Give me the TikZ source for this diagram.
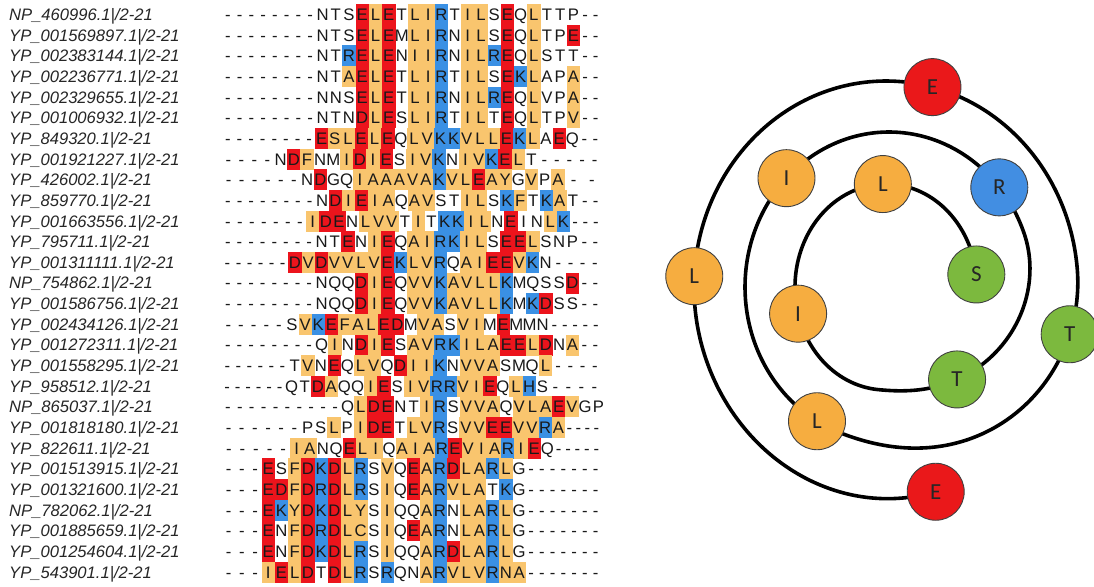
\documentclass[tikz,border=0pt]{standalone}
\usepackage{fontspec}
\setmainfont{Liberation Sans}
\newfontfamily\wheelfont{Carlito}
\definecolor{colr}{RGB}{236,20,28}
\definecolor{colb}{RGB}{58,144,228}
\definecolor{colo}{RGB}{249,197,110}
\definecolor{whred}{RGB}{234,24,26}
\definecolor{whorange}{RGB}{246,173,64}
\definecolor{whblue}{RGB}{66,142,226}
\definecolor{whgreen}{RGB}{124,185,62}

\def\resw{13.2}

% #1 row, #2 label, #3 x of first residue, #4 leading gaps, #5 trailing gaps, #6 sequence
\def\alnrow#1#2#3#4#5#6{%
  \pgfmathsetmacro\tmpb{20.5+20.65*(#1-1)}\xdef\rowbase{\tmpb}%
  \pgfmathsetmacro\tmpa{#4>0 ? (#3-222)/max(#4,1) : 0}\xdef\leadw{\tmpa}%
  \pgfmathsetmacro\tmpa{#5>0 ? (601-(#3+20*\resw))/max(#5,1) : 0}\xdef\trailw{\tmpa}%
  \xdef\curdashw{\leadw}%
  \pgfmathsetmacro\tmpa{#3-#4*\leadw}\xdef\cx{\tmpa}%
  \xdef\rownum{#1}%
  \xdef\colnum{0}%
  \node[lab] (lab#1) at (9,\rowbase) {#2};%
  \alnparse#6.}
\def\alnparse#1{%
  \ifx#1.\let\alnnext\relax
  \else\ifx#1-\def\alnnext{\alndash\alnparse}%
  \else\def\alnnext##1{\alnres{#1}{##1}\alnparse}%
  \fi\fi\alnnext}
\def\alnadvance#1{%
  \pgfmathsetmacro\tmpn{\cx+#1}\xdef\cx{\tmpn}%
  \pgfmathtruncatemacro\tmpc{\colnum+1}\xdef\colnum{\tmpc}}
\def\alndash{%
  \pgfmathsetmacro\tmpx{\cx+\curdashw/2}%
  \node[dashc] (a\rownum x\colnum) at (\tmpx,\rowbase) {-};%
  \alnadvance{\curdashw}}
\def\alnres#1#2{%
  \ifx#2w\else
    \fill[col#2] (\cx,\rowbase-16.4) rectangle ++(\resw+0.3,21);%
  \fi
  \pgfmathsetmacro\tmpx{\cx+\resw/2}%
  \node[resc] (a\rownum x\colnum) at (\tmpx,\rowbase) {#1};%
  \xdef\curdashw{\trailw}%
  \alnadvance{\resw}}

\tikzset{
  lab/.style={anchor=base west, inner sep=0pt, font=\fontsize{16.6}{20}\selectfont\itshape, text=black!85},
  resc/.style={anchor=base, inner sep=0pt, font=\fontsize{16.7}{20}\selectfont, text=black!90},
  dashc/.style={resc},
  wres/.style={circle, minimum size=57pt, inner sep=0pt, draw=black!75, line width=0.9pt,
    font=\wheelfont\fontsize{23}{27}\selectfont, text=black!85},
  spiral/.style={line width=3.6pt, black}
}

\begin{document}
\begin{tikzpicture}[x=1pt,y=-1pt,
  declare function={
    cl(\u)=min(1,max(0,\u));
    sm(\a,\b,\t)=cl((\t-\a)/(\b-\a))^2*(3-2*cl((\t-\a)/(\b-\a)));
    wrx(\t)=192-48*sm(445,560,\t)-53*sm(790,905,\t);
    wry(\t)=206+6*(1-sm(160,300,\t))-51*sm(445,560,\t)-52*sm(790,905,\t);
    wx(\t)=886+3*sm(445,560,\t)-3*sm(790,905,\t)+wrx(\t)*sin(\t);
    wy(\t)=287-wry(\t)*cos(\t);
  }]
\fill[white] (0,0) rectangle (1094,586);
\useasboundingbox (0,0) rectangle (1094,586);

\alnrow{1}{NP\_460996.1|/2-21}{316}{8}{2}{--------NwTwSwErLoErTwLoIoRbTwIoLoSwErQwLoTwTwPw--}
\alnrow{2}{YP\_001569897.1|/2-21}{316}{8}{2}{--------NwTwSwErLoErMwLoIoRbNwIoLoSwErQwLoTwPwEr--}
\alnrow{3}{YP\_002383144.1|/2-21}{316}{8}{2}{--------NwTwRbErLoErNwIoIoRbNwIoLoRbErQwLoSwTwTw--}
\alnrow{4}{YP\_002236771.1|/2-21}{316}{8}{2}{--------NwTwAoErLoErTwLoIoRbTwIoLoSwErKbLoAwPwAo--}
\alnrow{5}{YP\_002329655.1|/2-21}{316}{8}{2}{--------NwNwSwErLoErTwLoIoRbNwIoLoRbErQwLoVwPwAo--}
\alnrow{6}{YP\_001006932.1|/2-21}{316}{8}{2}{--------NwTwNwDrLoErSwLoIoRbTwIoLoTwErQwLoTwPwVo--}
\alnrow{7}{YP\_849320.1|/2-21}{315}{8}{2}{--------ErSoLoErLoErQwLoVoKbKbVoLoLoErKbLoAwErQw--}
\alnrow{8}{YP\_001921227.1|/2-21}{274}{4}{5}{----NwDrFoNwMwIoDrIoErSwIoVoKbNwIoVoKbErLoTw-----}
\alnrow{9}{YP\_426002.1|/2-21}{300.5}{6}{2}{------NwDrGwQwIoAoAoAoVoAoKbVoLoErAoYoGwVoPwAo--}
\alnrow{10}{YP\_859770.1|/2-21}{315.5}{8}{2}{--------NwDrIoErIoAoQwAoVoSwTwIoLoSwKbFoTwKbAoTw--}
\alnrow{11}{YP\_001663556.1|/2-21}{306}{7}{3}{-------IoDrErNwLoVoVoTwIoTwKbKbIoLoNwErIwNwLoKb---}
\alnrow{12}{YP\_795711.1|/2-21}{315}{8}{2}{--------NwTwErNwIoErQwAoIoRbKbIoLoSwErErLoSwNwPw--}
\alnrow{13}{YP\_001311111.1|/2-21}{288.3}{6}{4}{------DrVoDrVoVoLoVoErKbLoVoRbQwAoIoErErVoKbNw----}
\alnrow{14}{NP\_754862.1|/2-21}{315}{8}{2}{--------NwQwQwDrIoErQwVoVoKbAoVoLoLoKbMwQwSwSwDr--}
\alnrow{15}{YP\_001586756.1|/2-21}{315}{8}{2}{--------NwQwQwDrIoErQwVoVoKbAoVoLoLoKbMwKbDrSwSw--}
\alnrow{16}{YP\_002434126.1|/2-21}{285.3}{5}{5}{-----SwVoKbErFoAoLoErDrMwVoAoSwVoIoMwErMwMwNw-----}
\alnrow{17}{YP\_001272311.1|/2-21}{315}{8}{2}{--------QwIoNwDrIoErSwAoVoRbKbIoLoAoErErLoDrNwAo--}
\alnrow{18}{YP\_001558295.1|/2-21}{288}{6}{4}{------TwVoNwErQwLoVoQwDrIoIoKbNwVoVoAoSwMwQwLo----}
\alnrow{19}{YP\_958512.1|/2-21}{285}{6}{4}{------QwTwDrAoQwQwIoErSwIoVoRbRbVoIoErQwLoHbSw----}
\alnrow{20}{NP\_865037.1|/2-21}{341}{10}{0}{----------QwLoDrErNwTwIoRbSwVoVoAoQwVoLoAoErVoGwPw}
\alnrow{21}{YP\_001818180.1|/2-21}{301}{6}{4}{------PwSwLoPwIoDrErTwLoVoRbSwVoVoErErVoVoRbAo----}
\alnrow{22}{YP\_822611.1|/2-21}{290}{5}{5}{-----IoAoNwQwErLoIoQwAoIoAoRbErVoIoAoRbIoErQw-----}
\alnrow{23}{YP\_001513915.1|/2-21}{261.7}{3}{7}{---ErSwFoDrKbDrLoRbSwVoQwErAoRbDrLoAoRbLoGw-------}
\alnrow{24}{YP\_001321600.1|/2-21}{261.7}{3}{7}{---ErDrFoDrRbDrLoRbSwIoQwErAoRbVoLoAoTwKbGw-------}
\alnrow{25}{NP\_782062.1|/2-21}{261.7}{3}{7}{---ErKbYoDrKbDrLoYoSwIoQwQwAoRbNwLoAoRbLoGw-------}
\alnrow{26}{YP\_001885659.1|/2-21}{261.7}{3}{7}{---ErNwFoDrRbDrLoCoSwIoQwErAoRbNwLoAoRbLoGw-------}
\alnrow{27}{YP\_001254604.1|/2-21}{261.7}{3}{7}{---ErNwFoDrKbDrLoRbSwIoQwQwAoRbDrLoAoRbLoGw-------}
\alnrow{28}{YP\_543901.1|/2-21}{261.7}{3}{7}{---IoErLoDrTwDrLoRbSwRbQwNwAoRbVoLoVoRbNoAo-------}

% helical wheel: residue positions on the spiral
\coordinate (e1) at ({wx(165)},{wy(165)});
\coordinate (l2) at ({wx(273)},{wy(273)});
\coordinate (e3) at ({wx(374)},{wy(374)});
\coordinate (t4) at ({wx(463.5)},{wy(463.5)});
\coordinate (l5) at ({wx(570)},{wy(570)});
\coordinate (i6) at ({wx(674.6)},{wy(674.6)});
\coordinate (r7) at ({wx(770)},{wy(770)});
\coordinate (t8) at ({wx(860)},{wy(860)});
\coordinate (i9) at ({wx(975)},{wy(975)});
\coordinate (l10) at ({wx(1078)},{wy(1078)});
\coordinate (s11) at ({wx(1163)},{wy(1163)});

\draw[spiral] plot[domain=165:1163, samples=400, variable=\t, smooth] ({wx(\t)},{wy(\t)});

\node[wres, fill=whred] (E1) at (e1) {E};
\node[wres, fill=whorange] (L2) at (l2) {L};
\node[wres, fill=whred] (E3) at (e3) {E};
\node[wres, fill=whgreen] (T4) at (t4) {T};
\node[wres, fill=whorange] (L5) at (l5) {L};
\node[wres, fill=whorange] (I6) at (i6) {I};
\node[wres, fill=whblue] (R7) at (r7) {R};
\node[wres, fill=whgreen] (T8) at (t8) {T};
\node[wres, fill=whorange] (I9) at (i9) {I};
\node[wres, fill=whorange] (L10) at (l10) {L};
\node[wres, fill=whgreen] (S11) at (s11) {S};
\end{tikzpicture}
\end{document}
